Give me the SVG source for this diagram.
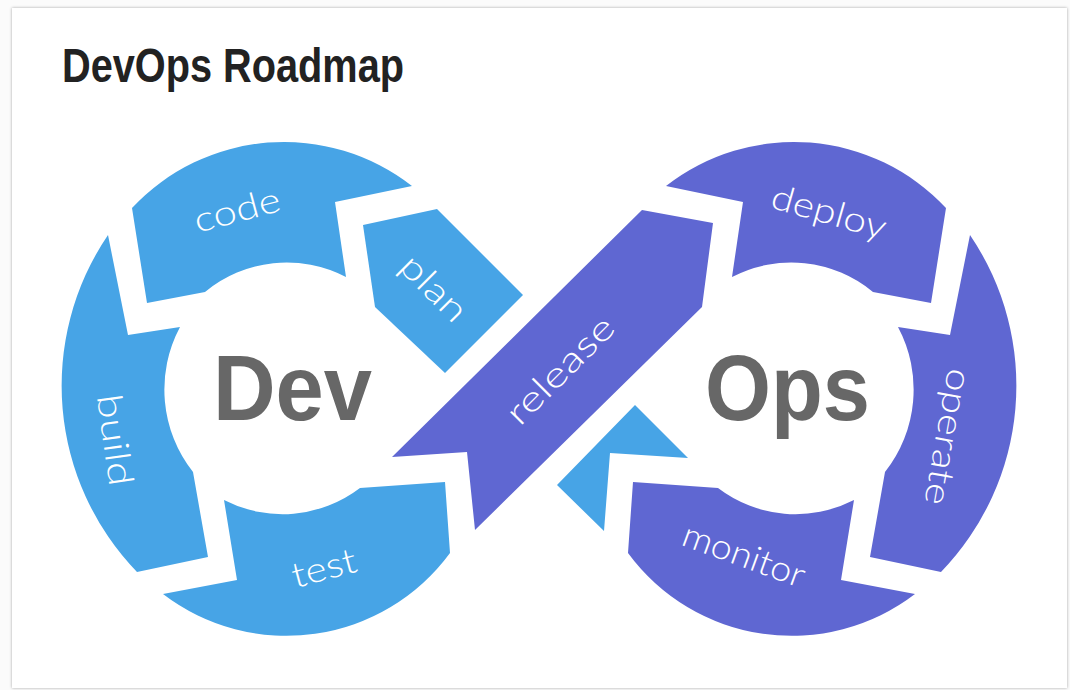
<svg xmlns="http://www.w3.org/2000/svg" width="1070" height="690" viewBox="0 0 1070 690">
  <style>
    .blue { fill: #47A4E6; }
    .purple { fill: #5F67D2; }
    .lbl { fill: #ffffff; font-family: "Lato", "Open Sans", "Liberation Sans", sans-serif; font-weight: 300; font-size: 35px; text-anchor: middle; }
    .big { fill: #676767; font-family: "Liberation Sans", Arial, sans-serif; font-weight: bold; font-size: 92px; }
    .title { fill: #222222; font-family: "Liberation Sans", Arial, sans-serif; font-weight: bold; font-size: 49px; }
  </style>
  <defs>
    <filter id="shadow" x="-5%" y="-5%" width="110%" height="110%">
      <feGaussianBlur in="SourceAlpha" stdDeviation="1.5"/>
      <feOffset dx="0" dy="0" result="b"/>
      <feFlood flood-color="#000" flood-opacity="0.35"/>
      <feComposite in2="b" operator="in"/>
      <feMerge><feMergeNode/><feMergeNode in="SourceGraphic"/></feMerge>
    </filter>
  </defs>

  <rect x="0" y="0" width="1070" height="690" fill="#fbfbfb"/>
  <rect x="12" y="8" width="1055" height="680" fill="#ffffff" filter="url(#shadow)"/>

  <g id="title">
    <text class="title" x="62" y="82" textLength="342" lengthAdjust="spacingAndGlyphs">DevOps Roadmap</text>
  </g>

  <g id="connectors"/>

  <g id="dev">
    <text class="big" x="213" y="420" textLength="159" lengthAdjust="spacingAndGlyphs">Dev</text>
  </g>
  <g id="ops">
    <text class="big" x="705" y="420" textLength="165" lengthAdjust="spacingAndGlyphs">Ops</text>
  </g>

  <g id="plan">
    <path class="blue" d="M363,225 L437,209 L523,295 L445,373 L375,307 Z"/>
    <text class="lbl" transform="translate(434,288) rotate(45)" dy="12" textLength="80" lengthAdjust="spacingAndGlyphs">plan</text>
  </g>

  <g id="code">
    <path class="blue" d="M412,186 L335,202 L346,277 A128,128 0 0 0 205,292 L147,303 L132,208 A208,208 0 0 1 412,186 Z"/>
    <text class="lbl" transform="translate(237,210) rotate(-15)" dy="12" textLength="88" lengthAdjust="spacingAndGlyphs">code</text>
  </g>

  <g id="build">
    <path class="blue" d="M108,235 L128,335 L180,327 A133,133 0 0 0 193,472 L208,557 L137,572 A268,268 0 0 1 108,235 Z"/>
    <text class="lbl" transform="translate(115,440) rotate(82)" dy="12" textLength="92" lengthAdjust="spacingAndGlyphs">build</text>
  </g>

  <g id="test">
    <path class="blue" d="M163,594 L237,580 L224,500 A128,128 0 0 0 360,488 L445,482 L450,553 A203,203 0 0 1 163,594 Z"/>
    <text class="lbl" transform="translate(324,568) rotate(-15)" dy="12" textLength="66" lengthAdjust="spacingAndGlyphs">test</text>
  </g>

  <g id="release">
    <path class="purple" d="M642,210 L713,223 L702,307 L475,530 L467,452 L392,457 Z"/>
    <text class="lbl" transform="translate(560,370) rotate(-45)" dy="12" textLength="138" lengthAdjust="spacingAndGlyphs">release</text>
  </g>

  <g id="deploy">
    <path class="purple" d="M666,186 L743,202 L732,277 A128,128 0 0 1 873,292 L931,303 L946,208 A208,208 0 0 0 666,186 Z"/>
    <text class="lbl" transform="translate(829,212) rotate(16)" dy="12" textLength="118" lengthAdjust="spacingAndGlyphs">deploy</text>
  </g>

  <g id="operate">
    <path class="purple" d="M970,235 L950,335 L898,327 A133,133 0 0 1 885,472 L870,557 L941,572 A268,268 0 0 0 970,235 Z"/>
    <text class="lbl" transform="translate(948,437) rotate(100)" dy="12" textLength="138" lengthAdjust="spacingAndGlyphs">operate</text>
  </g>

  <g id="monitor">
    <path class="purple" d="M915,594 L841,580 L854,500 A128,128 0 0 1 718,488 L633,482 L628,553 A203,203 0 0 0 915,594 Z"/>
    <text class="lbl" transform="translate(744,555) rotate(20)" dy="12" textLength="128" lengthAdjust="spacingAndGlyphs">monitor</text>
  </g>

  <g id="feedback">
    <path class="blue" d="M635,405 L688,458 L610,453 L604,531 L557,485 Z"/>
  </g>
</svg>
